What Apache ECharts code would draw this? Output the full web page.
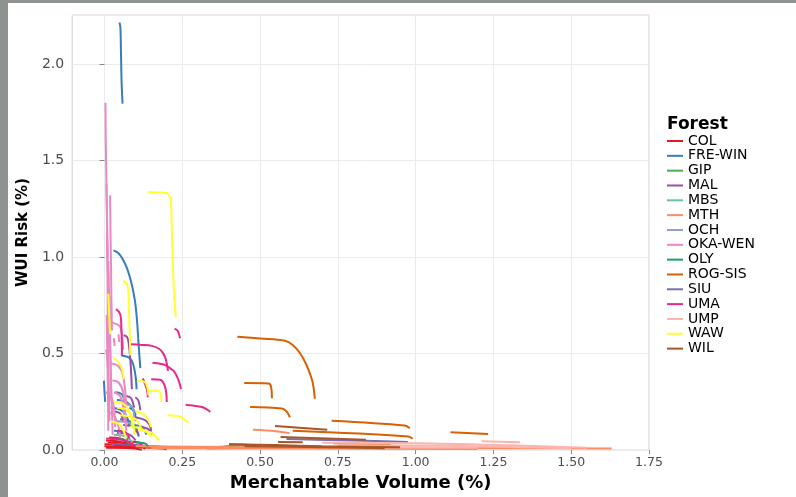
<!DOCTYPE html>
<html>
<head>
<meta charset="utf-8">
<script src="https://cdn.jsdelivr.net/npm/echarts@6/dist/echarts.min.js"></script>
<style>
html,body{margin:0;padding:0;width:796px;height:497px;overflow:hidden;background:#8e9390;}
#c{position:absolute;left:8px;top:3px;width:788px;height:494px;background:#ffffff;}
</style>
</head>
<body>
<div id="c"></div>
<script>
// ---- Data ----
const forests = ['COL','FRE-WIN','GIP','MAL','MBS','MTH','OCH','OKA-WEN','OLY','ROG-SIS','SIU','UMA','UMP','WAW','WIL'];
const xTicks = [0, 0.25, 0.5, 0.75, 1.0, 1.25, 1.5, 1.75];
const yTicks = [0, 0.5, 1.0, 1.5, 2.0];

// each forest: list of curves, each curve: [merchantable volume %, WUI risk %] points
const COL = [
  [[0.005,0.05],[0.04,0.046],[0.06,0.036],[0.065,0.01]],
  [[0.01,0.04],[0.08,0.035],[0.1,0.022],[0.105,0.005]],
  [[0.0,0.03],[0.05,0.028],[0.12,0.02],[0.13,0.005]],
  [[0.02,0.058],[0.03,0.052],[0.035,0.03]],
  [[0.0,0.02],[0.15,0.012],[0.2,0.005]],
  [[0.005,0.012],[0.09,0.01],[0.12,0.002]],
  [[0.06,0.045],[0.11,0.04],[0.12,0.025]],
  [[0.015,0.065],[0.05,0.06],[0.07,0.045],[0.075,0.02]],
  [[0.03,0.025],[0.13,0.02],[0.165,0.01]]
];
const FRE_WIN = [
  [[0.048,2.215],[0.051,2.19],[0.053,2.05],[0.055,1.9],[0.058,1.795]],
  [[0.029,1.035],[0.045,1.02],[0.06,0.985],[0.075,0.93],[0.088,0.855],[0.098,0.77],[0.104,0.68],[0.109,0.56],[0.115,0.425]],
  [[0.055,0.49],[0.08,0.478],[0.092,0.445],[0.1,0.38],[0.103,0.315]],
  [[-0.002,0.36],[0.0,0.3],[0.002,0.25]],
  [[0.035,0.3],[0.055,0.29],[0.065,0.25]],
  [[0.02,0.22],[0.05,0.21],[0.07,0.18],[0.08,0.12]],
  [[0.05,0.16],[0.08,0.15],[0.1,0.12],[0.11,0.07]],
  [[0.03,0.1],[0.06,0.09],[0.075,0.05]],
  [[0.08,0.22],[0.095,0.2],[0.1,0.15]],
  [[0.04,0.26],[0.07,0.25],[0.09,0.22],[0.1,0.18]],
  [[0.09,0.13],[0.12,0.12],[0.135,0.08]]
];
const GIP = [
  [[0.28,0.012],[0.38,0.018],[0.44,0.024],[0.5,0.02]],
  [[0.4,0.03],[0.47,0.027],[0.5,0.022]],
  [[0.33,0.008],[0.45,0.012],[0.52,0.015]]
];
const MAL = [
  [[0.061,0.595],[0.072,0.587],[0.077,0.562],[0.083,0.469],[0.088,0.316]],
  [[0.099,0.274],[0.109,0.257],[0.115,0.207]],
  [[0.1,0.17],[0.13,0.155],[0.145,0.13],[0.15,0.1]],
  [[0.06,0.13],[0.09,0.12],[0.11,0.08]],
  [[0.12,0.12],[0.14,0.11],[0.155,0.08]],
  [[0.03,0.2],[0.05,0.19],[0.06,0.15]],
  [[0.02,0.03],[0.1,0.025],[0.2,0.015]],
  [[0.07,0.28],[0.085,0.27],[0.095,0.22]],
  [[0.04,0.09],[0.08,0.08],[0.1,0.05]]
];
const MBS = [
  [[0.03,0.08],[0.07,0.07],[0.09,0.04]],
  [[0.12,0.02],[0.3,0.012]]
];
const MTH = [
  [[0.477,0.105],[0.55,0.098],[0.595,0.088]],
  [[0.1,0.02],[0.4,0.016],[0.9,0.013],[1.3,0.01],[1.63,0.008]],
  [[0.15,0.01],[0.6,0.008],[1.2,0.006]]
];
const OCH = [
  [[0.04,0.15],[0.08,0.14],[0.1,0.1]],
  [[0.07,0.24],[0.09,0.22],[0.095,0.17]]
];
const OKA_WEN = [
  [[0.003,1.80],[0.004,1.6],[0.006,1.4],[0.008,1.2],[0.009,1.0],[0.01,0.8],[0.011,0.6],[0.012,0.45],[0.013,0.2]],
  [[0.018,1.32],[0.019,1.15],[0.021,0.95],[0.022,0.8],[0.024,0.62]],
  [[0.008,1.12],[0.01,0.95],[0.012,0.88]],
  [[0.006,1.38],[0.008,1.2],[0.01,1.0]],
  [[0.012,0.98],[0.014,0.85],[0.016,0.7],[0.018,0.55],[0.02,0.4],[0.022,0.25]],
  [[0.015,0.663],[0.035,0.655],[0.05,0.64],[0.056,0.6],[0.06,0.52]],
  [[0.005,0.52],[0.01,0.45],[0.014,0.3],[0.016,0.15]],
  [[0.02,0.45],[0.04,0.44],[0.055,0.41],[0.065,0.33],[0.07,0.22]],
  [[0.025,0.36],[0.045,0.35],[0.06,0.3],[0.066,0.2],[0.07,0.1]],
  [[0.004,0.3],[0.02,0.28],[0.03,0.22],[0.034,0.12]],
  [[0.03,0.58],[0.032,0.54]],
  [[0.045,0.6],[0.047,0.56]],
  [[0.01,0.2],[0.03,0.18],[0.045,0.12],[0.05,0.06]],
  [[0.016,0.8],[0.018,0.6],[0.02,0.4],[0.024,0.2],[0.026,0.08]],
  [[0.007,0.7],[0.009,0.5],[0.011,0.3],[0.012,0.1]],
  [[0.03,0.3],[0.05,0.28],[0.06,0.22],[0.065,0.14]]
];
const OLY = [
  [[0.02,0.06],[0.06,0.055],[0.08,0.03]],
  [[0.1,0.04],[0.13,0.035],[0.14,0.02]]
];
const ROG_SIS = [
  [[0.427,0.587],[0.5,0.578],[0.58,0.567],[0.605,0.545],[0.628,0.503],[0.645,0.455],[0.655,0.418],[0.669,0.35],[0.676,0.266]],
  [[0.449,0.347],[0.527,0.345],[0.535,0.33],[0.538,0.269]],
  [[0.468,0.223],[0.57,0.215],[0.585,0.201],[0.596,0.169]],
  [[0.73,0.152],[0.965,0.127],[0.981,0.113]],
  [[0.605,0.1],[0.976,0.071],[0.99,0.059]],
  [[1.112,0.093],[1.233,0.083]],
  [[0.735,0.035],[0.92,0.03]]
];
const SIU = [
  [[0.585,0.057],[0.8,0.05],[0.975,0.042]]
];
const UMA = [
  [[0.037,0.731],[0.05,0.706],[0.054,0.64],[0.056,0.487]],
  [[0.083,0.548],[0.12,0.545],[0.152,0.54],[0.175,0.525],[0.187,0.505],[0.196,0.475],[0.201,0.44],[0.204,0.41]],
  [[0.154,0.452],[0.19,0.443],[0.206,0.43],[0.222,0.41],[0.236,0.37],[0.246,0.316]],
  [[0.15,0.367],[0.179,0.364],[0.195,0.325],[0.2,0.249]],
  [[0.123,0.371],[0.136,0.316],[0.139,0.274]],
  [[0.261,0.235],[0.3,0.227],[0.313,0.223],[0.33,0.21],[0.34,0.198]],
  [[0.225,0.629],[0.235,0.618],[0.243,0.579]],
  [[0.005,0.06],[0.05,0.055],[0.08,0.04],[0.09,0.02]],
  [[0.04,0.1],[0.07,0.09],[0.08,0.06]]
];
const UMP = [
  [[1.212,0.046],[1.335,0.041]],
  [[0.7,0.038],[1.0,0.036],[1.3,0.025],[1.55,0.012]],
  [[0.75,0.025],[1.1,0.022],[1.5,0.01]],
  [[0.8,0.015],[1.2,0.012]]
];
const WAW = [
  [[0.14,1.337],[0.17,1.335],[0.199,1.332],[0.207,1.32],[0.213,1.3],[0.217,1.1],[0.221,0.9],[0.226,0.756],[0.229,0.69]],
  [[0.06,0.878],[0.072,0.86],[0.076,0.83],[0.078,0.75],[0.082,0.55],[0.083,0.49]],
  [[0.012,0.81],[0.015,0.7],[0.018,0.6]],
  [[0.029,0.477],[0.045,0.455],[0.058,0.41],[0.061,0.367]],
  [[0.104,0.359],[0.131,0.35],[0.141,0.283]],
  [[0.136,0.308],[0.173,0.308],[0.184,0.249]],
  [[0.204,0.181],[0.243,0.173],[0.27,0.142]],
  [[0.03,0.25],[0.06,0.24],[0.08,0.2],[0.09,0.12]],
  [[0.05,0.18],[0.1,0.16],[0.12,0.1]],
  [[0.08,0.12],[0.12,0.11],[0.15,0.07]],
  [[0.1,0.2],[0.13,0.18],[0.15,0.12]],
  [[0.02,0.15],[0.05,0.13],[0.07,0.06]],
  [[0.11,0.1],[0.15,0.09],[0.175,0.05]],
  [[0.04,0.22],[0.07,0.21],[0.09,0.16],[0.095,0.08]]
];
const WIL = [
  [[0.548,0.125],[0.716,0.105]],
  [[0.566,0.068],[0.84,0.054]],
  [[0.558,0.042],[0.637,0.041]],
  [[0.4,0.03],[0.55,0.026],[0.7,0.02],[0.95,0.015]],
  [[0.45,0.02],[0.7,0.015],[0.9,0.01]]
];

const curvesByForest = [COL, FRE_WIN, GIP, MAL, MBS, MTH, OCH, OKA_WEN, OLY, ROG_SIS, SIU, UMA, UMP, WAW, WIL];
const palette = ['#E41A1C','#377EB8','#4DAF4A','#984EA3','#66C2A5','#FC8D62','#8DA0CB','#E78AC3','#1B9E77','#D95F02','#7570B3','#E7298A','#FBB4AE','#FFFF33','#A65628'];

const series = [];
forests.forEach((f, i) => {
  curvesByForest[i].forEach(curve => {
    series.push({
      type: 'line', name: f, data: curve,
      symbol: 'none', showSymbol: false,
      smooth: 0.35,
      lineStyle: { width: 2, color: palette[i] },
      itemStyle: { color: palette[i] },
      silent: true, animation: false
    });
  });
});

const chart = echarts.init(document.getElementById('c'));
chart.setOption({
  animation: false,
  backgroundColor: '#ffffff',
  title: {
    text: 'Forest', left: 659, top: 113, padding: 0,
    textStyle: { fontFamily: 'DejaVu Sans', fontWeight: 'bold', fontSize: 17, color: '#000' }
  },
  legend: {
    data: forests, orient: 'vertical', left: 659, top: 131, padding: 0,
    icon: 'path://M0,0 L16,0 L16,2 L0,2 Z',
    itemWidth: 16, itemHeight: 14, itemGap: 0.83,
    textStyle: { fontFamily: 'DejaVu Sans', fontSize: 14, color: '#000', lineHeight: 14 }
  },
  grid: { left: 64, top: 12, right: 147, bottom: 38, show: true, borderColor: '#cfcfcf', borderWidth: 1 },
  xAxis: {
    type: 'value', min: -0.104, max: 1.75,
    name: 'Merchantable Volume (%)', nameLocation: 'middle', nameGap: 16,
    nameTextStyle: { fontFamily: 'DejaVu Sans', fontWeight: 'bold', fontSize: 18, color: '#000' },
    axisLine: { show: false },
    axisTick: { show: true, length: 4, lineStyle: { color: '#8a8a8a' }, customValues: xTicks },
    axisLabel: { customValues: xTicks, margin: 6, fontFamily: 'DejaVu Sans', fontSize: 12.5, color: '#4d4d4d',
      formatter: v => v.toFixed(2) },
    splitLine: { show: true, lineStyle: { color: '#ebebeb', width: 1 } }
  },
  yAxis: {
    type: 'value', min: 0, max: 2.254, interval: 0.5,
    name: 'WUI Risk (%)', nameLocation: 'middle', nameGap: 37,
    nameTextStyle: { fontFamily: 'DejaVu Sans', fontWeight: 'bold', fontSize: 15, color: '#000' },
    axisLine: { show: false },
    axisTick: { show: true, length: 5, lineStyle: { color: '#8a8a8a' } },
    axisLabel: { showMaxLabel: false, margin: 8, fontFamily: 'DejaVu Sans', fontSize: 14, color: '#4d4d4d',
      formatter: v => v.toFixed(1) },
    splitLine: { show: true, lineStyle: { color: '#ebebeb', width: 1 } }
  },
  series: series
});
</script>
</body>
</html>
